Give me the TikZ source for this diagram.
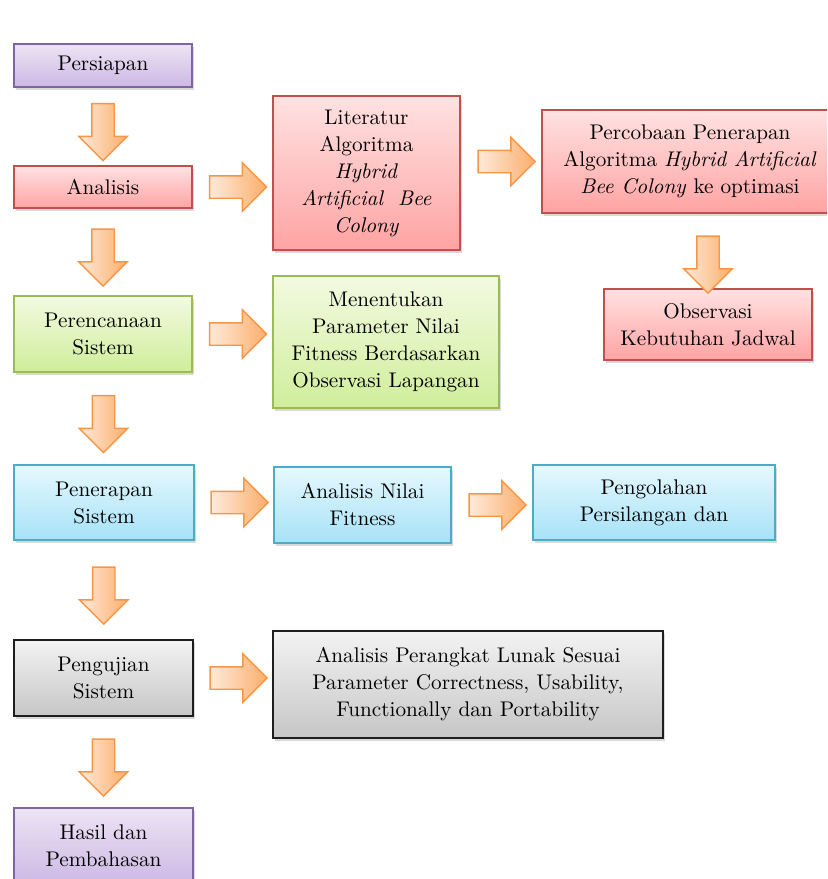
\documentclass[tikz,border=0pt]{standalone}
\usetikzlibrary{calc,shapes.arrows,shadows}

\definecolor{unguGaris}{HTML}{8064A2}
\definecolor{unguAtas}{HTML}{ECE4F5}
\definecolor{unguBawah}{HTML}{CDB8E4}
\definecolor{merahGaris}{HTML}{C0504D}
\definecolor{merahAtas}{HTML}{FFE2E2}
\definecolor{merahBawah}{HTML}{FFA3A3}
\definecolor{hijauGaris}{HTML}{9BBB59}
\definecolor{hijauAtas}{HTML}{F3FAE2}
\definecolor{hijauBawah}{HTML}{CFEE9A}
\definecolor{biruGaris}{HTML}{4BACC6}
\definecolor{biruAtas}{HTML}{E6F8FE}
\definecolor{biruBawah}{HTML}{A6E2F7}
\definecolor{abuGaris}{HTML}{1E1E1E}
\definecolor{abuAtas}{HTML}{F3F3F3}
\definecolor{abuBawah}{HTML}{C6C6C6}
\definecolor{oranyeGaris}{HTML}{F79646}
\definecolor{oranyeEkor}{HTML}{FFEADB}
\definecolor{oranyeUjung}{HTML}{FBAE6A}

\begin{document}
\begin{tikzpicture}[x=0.5pt, y=-0.5pt,
  block/.style={draw, line width=0.8pt, align=center, inner sep=2pt,
    font=\fontsize{10.6}{13.5}\selectfont,
    drop shadow={shadow xshift=1.2pt, shadow yshift=-1.5pt, opacity=0.3}},
  ungu/.style={block, draw=unguGaris, top color=unguAtas, bottom color=unguBawah},
  merah/.style={block, draw=merahGaris, top color=merahAtas, bottom color=merahBawah},
  hijau/.style={block, draw=hijauGaris, top color=hijauAtas, bottom color=hijauBawah},
  biru/.style={block, draw=biruGaris, top color=biruAtas, bottom color=biruBawah},
  abu/.style={block, draw=abuGaris, top color=abuAtas, bottom color=abuBawah},
  panah/.style={single arrow, draw=oranyeGaris, line width=0.7pt,
    left color=oranyeEkor, right color=oranyeUjung,
    minimum height=28.5pt, minimum width=23.5pt, inner sep=5.25pt,
    single arrow head extend=6.5pt, anchor=center},
  panahbawah/.style={panah, rotate=-90}]

  \useasboundingbox (0,0) rectangle (827,879);
  \clip (0,0) rectangle (827,879);

  % Left column
  \node[ungu, minimum width=89pt, minimum height=21.5pt] (K1) at (103,65.5) {Persiapan};
  \node[merah, minimum width=89pt, minimum height=21pt] (K2) at (103,187) {Analisis};
  \node[hijau, minimum width=89pt, minimum height=38pt] (K3) at (103,334) {Perencanaan\\Sistem};
  \node[biru, minimum width=90pt, minimum height=37.5pt] (K4) at (104,502.5) {Penerapan\\Sistem};
  \node[abu, minimum width=89.5pt, minimum height=38pt] (K5) at (103.5,678) {Pengujian\\Sistem};
  \node[ungu, minimum width=89.5pt, minimum height=38pt] (K6) at (103.5,846) {Hasil dan\\Pembahasan};

  % Right side
  \node[merah, minimum width=93.5pt, minimum height=77pt] (L1) at (366.5,173)
    {Literatur\\Algoritma\\\textit{Hybrid}\\\textit{Artificial\ \ Bee}\\\textit{Colony}};
  \node[merah, minimum width=148pt, minimum height=51.5pt] (L2) at (690,161.5)
    {Percobaan Penerapan\\Algoritma \textit{Hybrid Artificial}\\\textit{Bee Colony} ke optimasi};
  \node[merah, minimum width=104pt, minimum height=35.5pt] (L3) at (708,324.5)
    {Observasi\\Kebutuhan Jadwal};
  \node[hijau, minimum width=113pt, minimum height=66pt] (M1) at (386,342)
    {Menentukan\\Parameter Nilai\\Fitness Berdasarkan\\Observasi Lapangan};
  \node[biru, minimum width=88.5pt, minimum height=38pt] (N1) at (362.5,505)
    {Analisis Nilai\\Fitness};
  \node[biru, minimum width=121pt, minimum height=37.5pt] (N2) at (654,502.5)
    {Pengolahan\\Persilangan dan};
  \node[abu, minimum width=195pt, minimum height=53.5pt] (P1) at (468,684.5)
    {Analisis Perangkat Lunak Sesuai\\Parameter Correctness, Usability,\\Functionally dan Portability};

  % Down arrows
  \node[panahbawah] at ($(K1.south)!0.5!(K2.north)$) {};
  \node[panahbawah] at ($(K2.south)!0.5!(K3.north)$) {};
  \node[panahbawah] at ($(K3.south)!0.5!(K4.north)$) {};
  \node[panahbawah] at ($(K4.south)!0.5!(K5.north)$) {};
  \node[panahbawah] at ($(K5.south)!0.5!(K6.north)$) {};
  \node[panahbawah, xshift=4pt] at ($(L2.south -| L3.north)!0.5!(L3.north)$) {};

  % Right arrows
  \node[panah] at ($(K2.east)!0.5!(K2.east -| L1.west)$) {};
  \node[panah] at ($(L2.west -| L1.east)!0.5!(L2.west)$) {};
  \node[panah] at ($(K3.east)!0.5!(K3.east -| M1.west)$) {};
  \node[panah] at ($(K4.east)!0.5!(K4.east -| N1.west)$) {};
  \node[panah] at ($(N1.east)!0.5!(N1.east -| N2.west)$) {};
  \node[panah] at ($(K5.east)!0.5!(K5.east -| P1.west)$) {};

\end{tikzpicture}
\end{document}
